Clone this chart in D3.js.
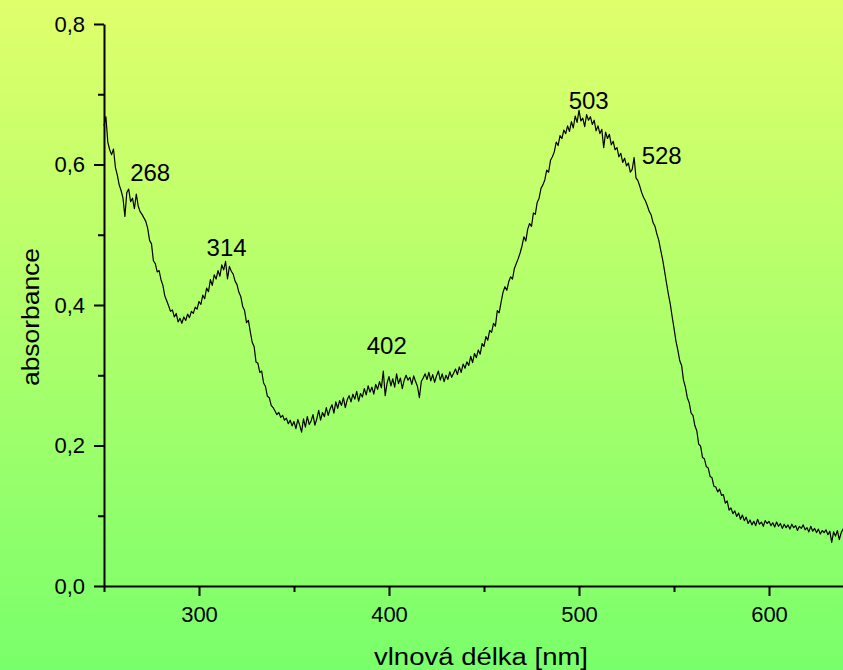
<!DOCTYPE html>
<html>
<head>
<meta charset="utf-8">
<script src="https://cdn.jsdelivr.net/npm/d3@7"></script>
<style>
  html, body { margin: 0; padding: 0; background: #fff; }
  svg { display: block; }
</style>
</head>
<body>
<svg id="chart" width="843" height="670"></svg>
<script>
// UV-Vis absorption spectrum, 1 nm sampling starting at 250 nm
const startNm = 250;
const absorbance = [
  0.655, 0.668, 0.632, 0.621, 0.614, 0.622, 0.596, 0.585, 0.571, 0.563, // 250
  0.552, 0.526, 0.560, 0.565, 0.547, 0.552, 0.537, 0.558, 0.541, 0.533, // 260
  0.529, 0.524, 0.519, 0.509, 0.492, 0.487, 0.463, 0.459, 0.447, 0.449, // 270
  0.436, 0.428, 0.413, 0.406, 0.399, 0.391, 0.393, 0.383, 0.388, 0.376, // 280
  0.381, 0.374, 0.383, 0.378, 0.387, 0.382, 0.391, 0.388, 0.397, 0.394, // 290
  0.405, 0.401, 0.414, 0.409, 0.424, 0.419, 0.436, 0.428, 0.443, 0.437, // 300
  0.449, 0.441, 0.457, 0.450, 0.462, 0.437, 0.455, 0.448, 0.444, 0.434, // 310
  0.429, 0.418, 0.412, 0.398, 0.392, 0.375, 0.378, 0.362, 0.347, 0.341, // 320
  0.319, 0.317, 0.304, 0.306, 0.289, 0.284, 0.270, 0.268, 0.257, 0.254, // 330
  0.249, 0.244, 0.247, 0.240, 0.243, 0.236, 0.239, 0.231, 0.236, 0.228, // 340
  0.234, 0.224, 0.237, 0.229, 0.219, 0.238, 0.226, 0.241, 0.230, 0.235, // 350
  0.244, 0.229, 0.238, 0.250, 0.236, 0.247, 0.241, 0.254, 0.243, 0.252, // 360
  0.258, 0.246, 0.262, 0.253, 0.264, 0.257, 0.268, 0.254, 0.265, 0.271, // 370
  0.262, 0.273, 0.266, 0.277, 0.263, 0.274, 0.269, 0.281, 0.272, 0.285, // 380
  0.276, 0.283, 0.273, 0.287, 0.280, 0.291, 0.282, 0.306, 0.271, 0.289, // 390
  0.298, 0.285, 0.295, 0.283, 0.302, 0.288, 0.296, 0.281, 0.293, 0.300, // 400
  0.293, 0.297, 0.287, 0.299, 0.291, 0.284, 0.268, 0.291, 0.296, 0.302, // 410
  0.294, 0.304, 0.292, 0.301, 0.290, 0.299, 0.306, 0.293, 0.302, 0.291, // 420
  0.300, 0.294, 0.305, 0.297, 0.303, 0.309, 0.301, 0.312, 0.304, 0.316, // 430
  0.310, 0.319, 0.314, 0.327, 0.318, 0.331, 0.325, 0.336, 0.330, 0.345, // 440
  0.341, 0.355, 0.350, 0.364, 0.361, 0.374, 0.370, 0.392, 0.389, 0.404, // 450
  0.418, 0.426, 0.421, 0.433, 0.440, 0.437, 0.452, 0.459, 0.466, 0.474, // 460
  0.484, 0.497, 0.491, 0.508, 0.516, 0.512, 0.531, 0.529, 0.546, 0.552, // 470
  0.566, 0.571, 0.578, 0.592, 0.589, 0.606, 0.611, 0.618, 0.632, 0.627, // 480
  0.641, 0.637, 0.649, 0.644, 0.655, 0.647, 0.661, 0.652, 0.669, 0.660, // 490
  0.677, 0.662, 0.666, 0.654, 0.671, 0.663, 0.668, 0.657, 0.663, 0.648, // 500
  0.655, 0.644, 0.650, 0.624, 0.646, 0.637, 0.643, 0.628, 0.633, 0.621, // 510
  0.624, 0.611, 0.616, 0.603, 0.609, 0.598, 0.602, 0.589, 0.593, 0.610, // 520
  0.581, 0.577, 0.569, 0.560, 0.553, 0.548, 0.541, 0.533, 0.528, 0.517, // 530
  0.512, 0.501, 0.492, 0.478, 0.465, 0.449, 0.432, 0.416, 0.402, 0.384, // 540
  0.367, 0.349, 0.336, 0.321, 0.314, 0.293, 0.283, 0.268, 0.261, 0.246, // 550
  0.243, 0.228, 0.221, 0.202, 0.199, 0.183, 0.181, 0.170, 0.168, 0.156, // 560
  0.154, 0.142, 0.141, 0.134, 0.138, 0.129, 0.130, 0.118, 0.121, 0.108, // 570
  0.111, 0.103, 0.107, 0.099, 0.104, 0.095, 0.101, 0.093, 0.098, 0.089, // 580
  0.094, 0.087, 0.092, 0.086, 0.095, 0.088, 0.091, 0.085, 0.093, 0.089, // 590
  0.092, 0.086, 0.090, 0.084, 0.091, 0.085, 0.089, 0.082, 0.088, 0.083, // 600
  0.087, 0.081, 0.088, 0.083, 0.086, 0.079, 0.085, 0.082, 0.087, 0.080, // 610
  0.083, 0.077, 0.085, 0.078, 0.082, 0.076, 0.081, 0.074, 0.079, 0.076, // 620
  0.080, 0.073, 0.078, 0.062, 0.077, 0.071, 0.079, 0.066, 0.076, 0.081, // 630
  0.083                                                                 // 640
];
const wavelengths = absorbance.map((_, i) => startNm + i);

// Axis ticks
const xMajorTicks = [300, 400, 500, 600];
const xMinorTicks = [250, 350, 450, 550, 650];
const yMajorTicks = [0.0, 0.2, 0.4, 0.6, 0.8];
const yMinorTicks = [0.1, 0.3, 0.5, 0.7];

// Annotated band maxima (nm)
const peakNm = [268, 314, 402, 503, 528];

// Texts
const xTitle = "vlnová délka [nm]";
const yTitle = "absorbance";

// ---- drawing ----
const W = 843, H = 670;
const FONT = "'Liberation Sans', Arial, Helvetica, sans-serif";
const svg = d3.select("#chart");

const defs = svg.append("defs");
const grad = defs.append("linearGradient")
  .attr("id", "bg").attr("x1", 0).attr("y1", 0).attr("x2", 0).attr("y2", 1);
grad.append("stop").attr("offset", "0%").attr("stop-color", "#e0ff6b");
grad.append("stop").attr("offset", "100%").attr("stop-color", "#79ff6b");
svg.append("rect").attr("width", W).attr("height", H).attr("fill", "url(#bg)");

const x = d3.scaleLinear().domain([250, 650]).range([104, 864]);
const y = d3.scaleLinear().domain([0, 0.8]).range([586, 24]);

const fmt = v => d3.format(".1f")(v).replace(".", ",");

// Spectrum trace
const line = d3.line().x((d, i) => x(wavelengths[i])).y(d => y(d));
svg.append("path")
  .datum(absorbance)
  .attr("d", line)
  .attr("fill", "none")
  .attr("stroke", "#000")
  .attr("stroke-width", 1.2)
  .attr("stroke-linejoin", "round");

// Axes
function styleAxis(g) {
  g.selectAll("path, line").attr("stroke", "#000").attr("stroke-width", 2);
  g.selectAll("text")
    .attr("fill", "#000")
    .style("font-family", FONT)
    .style("font-size", "22px");
}

svg.append("g")
  .attr("transform", "translate(0,586)")
  .call(d3.axisBottom(x).tickValues(xMinorTicks).tickSize(6).tickSizeOuter(0).tickFormat(""))
  .call(g => g.select(".domain").remove())
  .call(styleAxis);
svg.append("g")
  .attr("transform", "translate(0,586)")
  .call(d3.axisBottom(x).tickValues(xMajorTicks).tickSize(10).tickSizeOuter(0).tickPadding(10.5).tickFormat(d3.format("d")))
  .call(styleAxis);

svg.append("g")
  .attr("transform", "translate(104,0)")
  .call(d3.axisLeft(y).tickValues(yMinorTicks).tickSize(6).tickSizeOuter(0).tickFormat(""))
  .call(g => g.select(".domain").remove())
  .call(styleAxis);
svg.append("g")
  .attr("transform", "translate(104,0)")
  .call(d3.axisLeft(y).tickValues(yMajorTicks).tickSize(10).tickSizeOuter(0).tickPadding(9).tickFormat(fmt))
  .call(styleAxis);

// Axis titles
svg.append("text")
  .attr("x", 481).attr("y", 665)
  .attr("text-anchor", "middle")
  .attr("textLength", 214).attr("lengthAdjust", "spacingAndGlyphs")
  .style("font-family", FONT).style("font-size", "23px")
  .text(xTitle);

svg.append("text")
  .attr("transform", "translate(38.5,317) rotate(-90)")
  .attr("text-anchor", "middle")
  .attr("textLength", 138).attr("lengthAdjust", "spacingAndGlyphs")
  .style("font-family", FONT).style("font-size", "23px")
  .text(yTitle);

// Peak annotations: horizontal offset from the band position, baseline height
const peakLayout = {
  268: { dx: 12, y: 181 },
  314: { dx: 1, y: 255.5 },
  402: { dx: -6, y: 354 },
  503: { dx: 4, y: 109 },
  528: { dx: 29.5, y: 164 }
};
svg.append("g").selectAll("text")
  .data(peakNm)
  .join("text")
  .attr("x", d => x(d) + peakLayout[d].dx)
  .attr("y", d => peakLayout[d].y)
  .attr("text-anchor", "middle")
  .style("font-family", FONT).style("font-size", "24px")
  .attr("fill", "#000")
  .text(d => d);
</script>
</body>
</html>
